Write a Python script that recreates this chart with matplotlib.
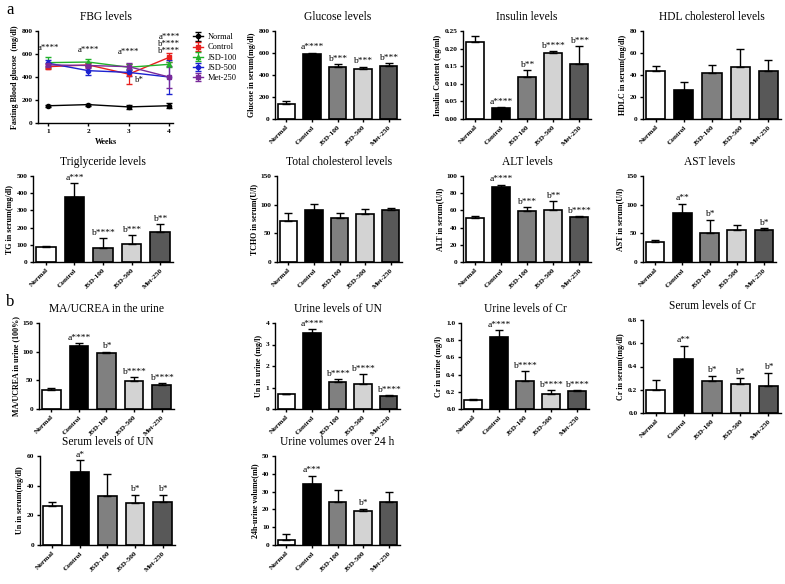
import matplotlib
matplotlib.use('Agg')
import matplotlib.pyplot as plt
import numpy as np

plt.rcParams['font.family'] = ['Liberation Serif', 'DejaVu Serif']
plt.rcParams['axes.linewidth'] = 1.0

W, H = 785, 584

groups = ['Normal', 'Control', 'JSD-100', 'JSD-500', 'Met-250']
bar_colors = ['white', 'black', '#808080', '#d3d3d3', '#585858']

# FBG time course
weeks = [1, 2, 3, 4]
fbg_mean = {
    'Normal': [150, 160, 140, 150],
    'Control': [490, 505, 425, 570],
    'JSD-100': [525, 530, 485, 510],
    'JSD-500': [520, 455, 440, 400],
    'Met-250': [505, 500, 490, 400],
}
fbg_err = {
    'Normal': [8, 8, 15, 20],
    'Control': [20, 20, 90, 40],
    'JSD-100': [45, 30, 25, 20],
    'JSD-500': [25, 40, 30, 150],
    'Met-250': [20, 20, 30, 95],
}
fbg_colors = {'Normal': 'black', 'Control': '#e8201e', 'JSD-100': '#22b22a',
              'JSD-500': '#1c22d0', 'Met-250': '#7a2a9a'}
fbg_markers = {'Normal': 'o', 'Control': 's', 'JSD-100': '^', 'JSD-500': 'o', 'Met-250': 's'}

# bar panels: means, upper errors, significance marks
glucose_mean = [140, 595, 470, 455, 480]
glucose_err = [25, 8, 30, 22, 25]
glucose_sig = ['', 'a****', 'b***', 'b***', 'b***']

insulin_mean = [0.22, 0.03, 0.12, 0.188, 0.157]
insulin_err = [0.015, 0.003, 0.018, 0.004, 0.05]
insulin_sig = ['', 'a****', 'b**', 'b****', 'b***']

hdl_mean = [44, 26, 42, 47, 44]
hdl_err = [4, 8, 7, 17, 10]
hdl_sig = ['', '', '', '', '']

tg_mean = [88, 380, 82, 105, 172]
tg_err = [5, 80, 55, 50, 50]
tg_sig = ['', 'a***', 'b****', 'b***', 'b**']

tcho_mean = [71, 91, 77, 84, 90]
tcho_err = [14, 10, 8, 9, 4]
tcho_sig = ['', '', '', '', '']

alt_mean = [51, 87, 59, 61, 52]
alt_err = [2, 3, 5, 10, 1]
alt_sig = ['', 'a****', 'b***', 'b**', 'b****']

ast_mean = [35, 86, 50, 56, 55]
ast_err = [4, 16, 24, 8, 4]
ast_sig = ['', 'a**', 'b*', '', 'b*']

ma_mean = [34, 110, 97, 49, 41]
ma_err = [3, 5, 3, 7, 4]
ma_sig = ['', 'a****', 'b*', 'b****', 'b****']

uun_mean = [0.68, 3.55, 1.27, 1.18, 0.6]
uun_err = [0.02, 0.15, 0.12, 0.45, 0.05]
uun_sig = ['', 'a****', 'b****', 'b****', 'b****']

ucr_mean = [0.10, 0.84, 0.33, 0.17, 0.205]
ucr_err = [0.015, 0.08, 0.11, 0.05, 0.015]
ucr_sig = ['', 'a****', 'b****', 'b****', 'b****']

scr_mean = [0.20, 0.465, 0.275, 0.25, 0.235]
scr_err = [0.08, 0.115, 0.045, 0.055, 0.11]
scr_sig = ['', 'a**', 'b*', 'b*', 'b*']

sun_mean = [26, 49, 33, 28, 29]
sun_err = [3, 8, 15, 6, 5]
sun_sig = ['', 'a*', '', 'b*', 'b*']

uvol_mean = [3, 34, 24, 19, 24]
uvol_err = [3, 5, 7, 1.5, 6]
uvol_sig = ['', 'a***', '', 'b*', '']

fig = plt.figure(figsize=(W / 100, H / 100), dpi=100)


def px_axes(left, top, width, bottom):
    return fig.add_axes([left / W, 1 - bottom / H, width / W, (bottom - top) / H])


def style_axes(ax):
    for s in ['top', 'right']:
        ax.spines[s].set_visible(False)
    ax.tick_params(axis='both', labelsize=5.3, width=1, length=2.5, pad=1.5)
    for lab in ax.get_yticklabels() + ax.get_xticklabels():
        lab.set_fontweight('bold')


def bar_panel(ax, title, ylabel, means, errs, sig, ymax, yticks, fmt):
    x = np.arange(len(groups))
    ax.bar(x, means, width=0.68, color=bar_colors, edgecolor='black', linewidth=1.2, zorder=2)
    ax.errorbar(x, means, yerr=[np.zeros(len(means)), errs], fmt='none', ecolor='black',
                elinewidth=1.0, capsize=3, capthick=1.0, zorder=3)
    for xi, m, e, s in zip(x, means, errs, sig):
        if s:
            ax.text(xi, m + e + ymax * 0.015, s, ha='center', va='bottom', fontsize=6.8)
    ax.set_xlim(-0.45, 4.45)
    ax.set_ylim(0, ymax)
    ax.set_yticks(yticks)
    ax.set_yticklabels([fmt.format(t) for t in yticks])
    ax.set_xticks(x)
    ax.set_xticklabels(groups, rotation=45, ha='right', rotation_mode='anchor')
    ax.set_ylabel(ylabel, fontsize=5.8, fontweight='bold', labelpad=2)
    ax.set_title(title, fontsize=8.3, pad=8)
    style_axes(ax)


# --- FBG panel ---
ax = px_axes(38, 31, 135, 123)
for g in groups:
    ax.errorbar(weeks, fbg_mean[g], yerr=fbg_err[g], color=fbg_colors[g], marker=fbg_markers[g],
                markersize=3, linewidth=1.0, capsize=2, elinewidth=0.9, label=g)
ax.set_xlim(0.75, 4.1)
ax.set_ylim(0, 800)
ax.set_yticks([0, 200, 400, 600, 800])
ax.set_xticks(weeks)
ax.set_xlabel('Weeks', fontsize=5.8, fontweight='bold', labelpad=3)
ax.set_ylabel('Fasting Blood glucose  (mg/dl)', fontsize=5.8, fontweight='bold', labelpad=2)
ax.set_title('FBG levels', fontsize=8.3, pad=8)
style_axes(ax)
fbg_sig_text = ['a****', 'a****', 'a****', 'a****\nb****\nb****']
fbg_sig_y = [615, 600, 580, 590]
for w, s, yy in zip(weeks, fbg_sig_text, fbg_sig_y):
    ax.text(w, yy, s, ha='center', va='bottom', fontsize=6.3, linespacing=0.85)
ax.text(3.15, 370, 'b*', ha='left', va='center', fontsize=6.3)
ax.legend(loc='upper left', bbox_to_anchor=(190 / W, 1 - 30 / H), bbox_transform=fig.transFigure,
          frameon=False, fontsize=6, handlelength=1.2, handletextpad=0.5, labelspacing=0.25,
          borderaxespad=0)

cols = [(275, 125), (463, 128), (643, 138)]
row1 = (31, 119)
row2 = (176, 262)
row3 = (323, 409)
row4 = (456, 545)

bar_panel(px_axes(cols[0][0], row1[0], cols[0][1], row1[1]), 'Glucose levels',
          'Glucose in serum(mg/dl)', glucose_mean, glucose_err, glucose_sig,
          800, [0, 200, 400, 600, 800], '{:.0f}')
bar_panel(px_axes(cols[1][0], row1[0], cols[1][1], row1[1]), 'Insulin levels',
          'Insulin Content (ng/ml)', insulin_mean, insulin_err, insulin_sig,
          0.25, [0, 0.05, 0.10, 0.15, 0.20, 0.25], '{:.2f}')
bar_panel(px_axes(cols[2][0], row1[0], cols[2][1], row1[1]), 'HDL cholesterol levels',
          'HDLC in serum(mg/dl)', hdl_mean, hdl_err, hdl_sig,
          80, [0, 20, 40, 60, 80], '{:.0f}')

bar_panel(px_axes(33, row2[0], 140, row2[1]), 'Triglyceride levels',
          'TG in serum(mg/dl)', tg_mean, tg_err, tg_sig,
          500, [0, 100, 200, 300, 400, 500], '{:.0f}')
bar_panel(px_axes(cols[0][0] + 2, row2[0], cols[0][1], row2[1]), 'Total cholesterol levels',
          'TCHO in serum(U/l)', tcho_mean, tcho_err, tcho_sig,
          150, [0, 50, 100, 150], '{:.0f}')
bar_panel(px_axes(cols[1][0], row2[0], cols[1][1], row2[1]), 'ALT levels',
          'ALT in serum(U/l)', alt_mean, alt_err, alt_sig,
          100, [0, 20, 40, 60, 80, 100], '{:.0f}')
bar_panel(px_axes(cols[2][0], row2[0], cols[2][1] - 5, row2[1]), 'AST levels',
          'AST in serum(U/l)', ast_mean, ast_err, ast_sig,
          150, [0, 50, 100, 150], '{:.0f}')

bar_panel(px_axes(39, row3[0], 135, row3[1]), 'MA/UCREA in the urine',
          'MA/UCREA in urine (100%)', ma_mean, ma_err, ma_sig,
          150, [0, 50, 100, 150], '{:.0f}')
bar_panel(px_axes(cols[0][0], row3[0], cols[0][1], row3[1]), 'Urine levels of UN',
          'Un in urine (mg/l)', uun_mean, uun_err, uun_sig,
          4, [0, 1, 2, 3, 4], '{:.0f}')
bar_panel(px_axes(cols[1][0] - 2, row3[0], cols[1][1], row3[1]), 'Urine levels of Cr',
          'Cr in urine (mg/l)', ucr_mean, ucr_err, ucr_sig,
          1.0, [0, 0.2, 0.4, 0.6, 0.8, 1.0], '{:.1f}')
bar_panel(px_axes(cols[2][0], 320, cols[2][1], 413), 'Serum levels of Cr',
          'Cr in serum(mg/dl)', scr_mean, scr_err, scr_sig,
          0.8, [0, 0.2, 0.4, 0.6, 0.8], '{:.1f}')

bar_panel(px_axes(40, row4[0], 135, row4[1]), 'Serum levels of UN',
          'Un in serum(mg/dl)', sun_mean, sun_err, sun_sig,
          60, [0, 20, 40, 60], '{:.0f}')
bar_panel(px_axes(cols[0][0], row4[0], cols[0][1], row4[1]), 'Urine volumes over 24 h',
          '24h-urine volume(ml)', uvol_mean, uvol_err, uvol_sig,
          50, [0, 10, 20, 30, 40, 50], '{:.0f}')

fig.text(6 / W, 1 - 10 / H, 'a', fontsize=12, va='center', ha='left')
fig.text(6 / W, 1 - 302 / H, 'b', fontsize=12, va='center', ha='left')

fig.savefig('out.png', dpi=100)
